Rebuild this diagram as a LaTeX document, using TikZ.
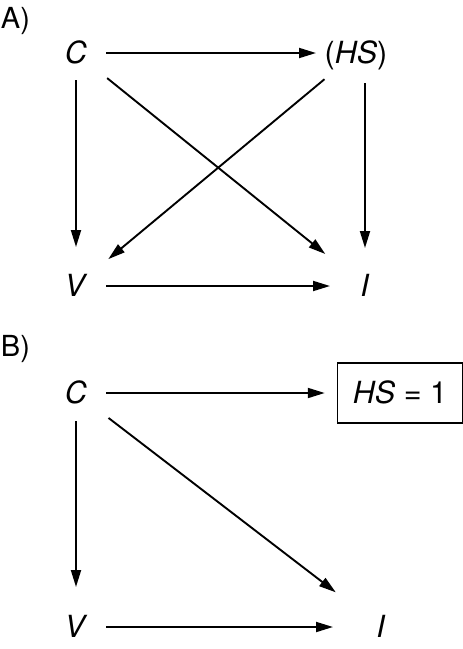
\documentclass[tikz,border=0pt]{standalone}
\usepackage{fontspec}
\setmainfont{TeX Gyre Heros}
\usetikzlibrary{arrows.meta}
\begin{document}
\begin{tikzpicture}[x=1pt, y=-1pt, line width=1.9pt, >={Triangle[length=17pt,width=10pt]},
    var/.style={inner sep=0pt, font=\fontsize{30.5}{36}\selectfont, text height=21pt, text depth=0pt},
    lbl/.style={inner sep=0pt, anchor=base west, font=\fontsize{29}{35}\selectfont}]
  \useasboundingbox (0,0) rectangle (463,649);
  % A) with the hidden variable
  \node[lbl] (labA) at (0,28) {A)};
  \node[var] (C1) at (76,53) {\textit{C}};
  \node[var] (H1) at (356,53) {(\textit{HS})};
  \node[var] (V1) at (76,286) {\textit{V}};
  \node[var] (I1) at (365,286) {\textit{I}};
  \draw[->, shorten <=30pt, shorten >=40pt] (C1.center) -- (H1.center);
  \draw[->, shorten <=27pt, shorten >=39pt] (C1.center) -- (V1.center);
  \draw[->, shorten <=40pt, shorten >=51pt] (C1.center) -- (I1.center);
  \draw[->, shorten <=41pt, shorten >=42pt] (H1.center) -- (V1.center);
  \draw[->, shorten <=30pt, shorten >=38pt] (H1 -| I1) -- (I1.center);
  \draw[->, shorten <=30pt, shorten >=35pt] (V1.center) -- (I1.center);
  % B) with HS fixed
  \node[lbl] (labB) at (0,356) {B)};
  \node[var] (C2) at (76,393) {\textit{C}};
  \node[var, draw, line width=1.5pt, minimum width=125pt, minimum height=60pt] (H2) at (400,393) {\textit{HS} = 1};
  \node[var] (V2) at (76,627) {\textit{V}};
  \node[var] (I2) at (381,627) {\textit{I}};
  \draw[->, shorten <=30pt, shorten >=12pt] (C2.center) -- (H2.west);
  \draw[->, shorten <=28pt, shorten >=40pt] (C2.center) -- (V2.center);
  \draw[->, shorten <=41pt, shorten >=57pt] (C2.center) -- (I2.center);
  \draw[->, shorten <=30pt, shorten >=48pt] (V2.center) -- (I2.center);
\end{tikzpicture}
\end{document}
